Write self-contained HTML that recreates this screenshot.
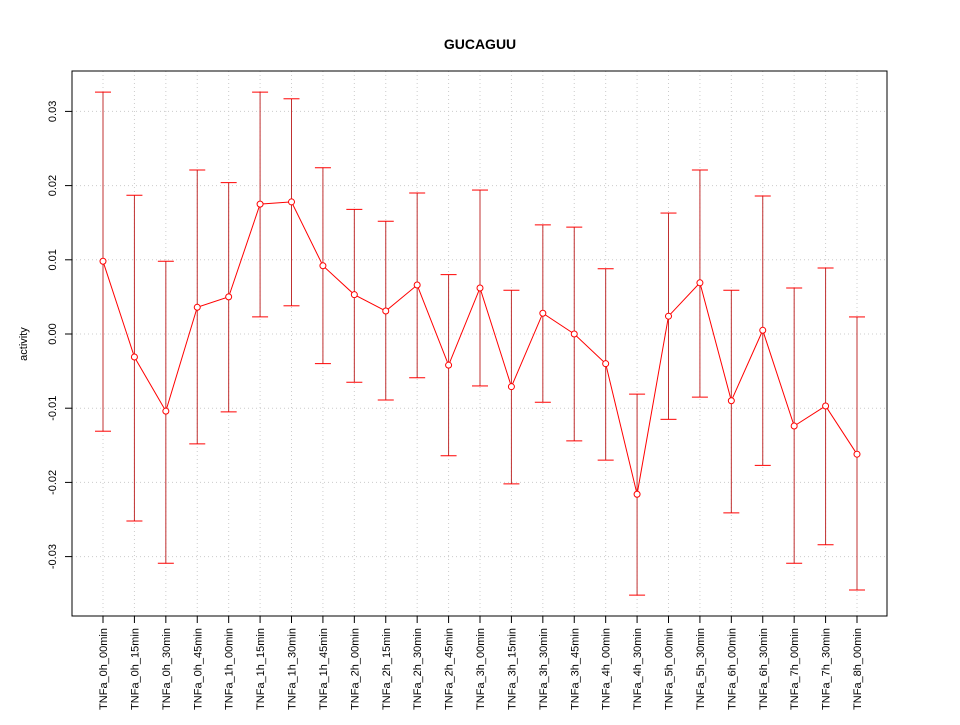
<!DOCTYPE html>
<html><head><meta charset="utf-8"><style>
html,body{margin:0;padding:0;background:#fff;}
svg text{font-family:"Liberation Sans",sans-serif;}
</style></head><body>
<svg id="chart" width="960" height="720" xmlns="http://www.w3.org/2000/svg">
<rect width="960" height="720" fill="#fff"/>
<text x="480" y="49" text-anchor="middle" font-size="14" font-weight="bold">GUCAGUU</text>
<text transform="translate(27,344) rotate(-90)" text-anchor="middle" font-size="11">activity</text>
<g id="grid"></g><g id="axes"></g><g id="marks"></g>
<rect x="72" y="71" width="815" height="545" fill="none" stroke="#000"/>
</svg>
<script>
const categories=["TNFa_0h_00min","TNFa_0h_15min","TNFa_0h_30min","TNFa_0h_45min","TNFa_1h_00min","TNFa_1h_15min","TNFa_1h_30min","TNFa_1h_45min","TNFa_2h_00min","TNFa_2h_15min","TNFa_2h_30min","TNFa_2h_45min","TNFa_3h_00min","TNFa_3h_15min","TNFa_3h_30min","TNFa_3h_45min","TNFa_4h_00min","TNFa_4h_30min","TNFa_5h_00min","TNFa_5h_30min","TNFa_6h_00min","TNFa_6h_30min","TNFa_7h_00min","TNFa_7h_30min","TNFa_8h_00min"];
const values=[0.0098,-0.0031,-0.0104,0.0036,0.0050,0.0175,0.0178,0.0092,0.0053,0.0031,0.0066,-0.0042,0.0062,-0.0071,0.0028,0.0000,-0.0040,-0.0216,0.0024,0.0069,-0.0090,0.0005,-0.0124,-0.0097,-0.0162];
const upper=[0.0326,0.0187,0.0098,0.0221,0.0204,0.0326,0.0317,0.0224,0.0168,0.0152,0.0190,0.0080,0.0194,0.0059,0.0147,0.0144,0.0088,-0.0081,0.0163,0.0221,0.0059,0.0186,0.0062,0.0089,0.0023];
const lower=[-0.0131,-0.0252,-0.0309,-0.0148,-0.0105,0.0023,0.0038,-0.0040,-0.0065,-0.0089,-0.0059,-0.0164,-0.0070,-0.0202,-0.0092,-0.0144,-0.0170,-0.0352,-0.0115,-0.0085,-0.0241,-0.0177,-0.0309,-0.0284,-0.0345];
const yTicks=[-0.03,-0.02,-0.01,0.00,0.01,0.02,0.03];
const yTickLabels=["-0.03","-0.02","-0.01","0.00","0.01","0.02","0.03"];
const NS="http://www.w3.org/2000/svg";
function y(v){return 334-v*7420;}
function x(i){return 103+i*(857-103)/(categories.length-1);}
function mk(parent,tag,attrs){const e=document.createElementNS(NS,tag);for(const k in attrs)e.setAttribute(k,attrs[k]);document.getElementById(parent).appendChild(e);return e;}
yTicks.forEach((t,i)=>{
  let g=mk('grid','line',{x1:72,x2:887,y1:y(t),y2:y(t),stroke:'#ccc','stroke-dasharray':'1,3'});
  
  
  let tk=mk('axes','line',{x1:65,x2:72,y1:y(t),y2:y(t),stroke:'#000','stroke-width':1});
  
  
  let tx=mk('axes','text',{transform:`translate(56,${y(t)}) rotate(-90)`,'text-anchor':'middle','font-size':11});
  tx.textContent=yTickLabels[i];
  
  
});
categories.forEach((c,i)=>{
  const xi=x(i);
  let g=mk('grid','line',{x1:xi,x2:xi,y1:71,y2:616,stroke:'#ccc','stroke-dasharray':'1,3'});
  
  
  let tk=mk('axes','line',{x1:xi,x2:xi,y1:616,y2:623,stroke:'#000'});
  
  
  let tx=mk('axes','text',{transform:`translate(${xi+4},628) rotate(-90)`,'text-anchor':'end','font-size':11});
  tx.textContent=c;
  
  
  let eb=mk('marks','line',{x1:xi,x2:xi,y1:y(upper[i]),y2:y(lower[i]),stroke:'#c03030','stroke-width':1});
  
  
  [upper[i],lower[i]].forEach(v=>{
    let cap=mk('marks','line',{x1:xi-8,x2:xi+8,y1:y(v),y2:y(v),stroke:'#f00','stroke-width':1});
    
    
  });
});
let pl=mk('marks','polyline',{points:values.map((v,i)=>x(i)+','+y(v)).join(' '),fill:'none',stroke:'#f00','stroke-width':1});


values.forEach((v,i)=>{
  let p=mk('marks','circle',{cx:x(i),cy:y(v),r:3,fill:'#fff',stroke:'#f00','stroke-width':1});
  
  
});
</script>
</body></html>
